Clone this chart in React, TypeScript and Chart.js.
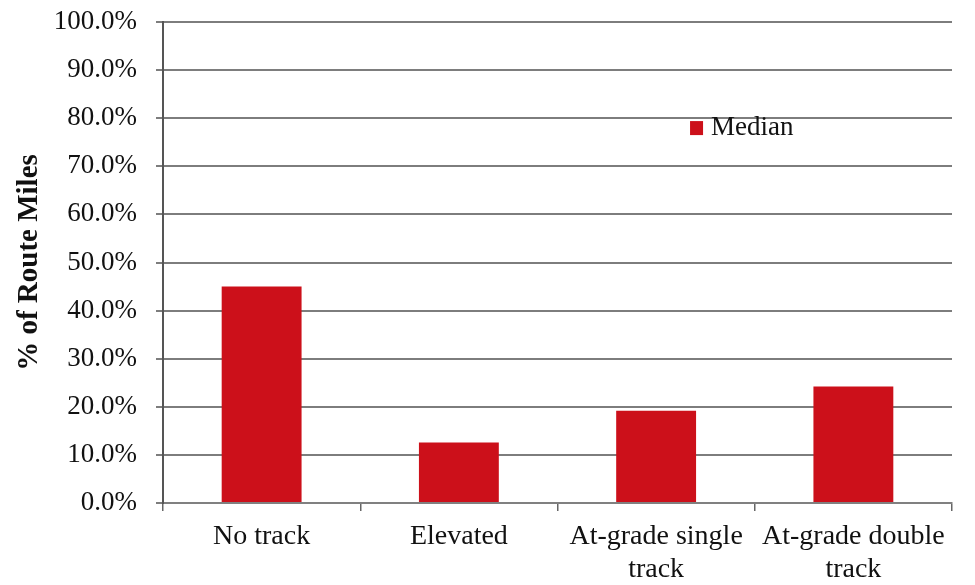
import React, { useEffect, useRef } from "react";
import { Chart, registerables } from "chart.js";

Chart.register(...registerables);

const categories: (string | string[])[] = [
  "No track",
  "Elevated",
  ["At-grade single", "track"],
  ["At-grade double", "track"],
];
const medianValues: number[] = [45.0, 12.6, 19.2, 24.2];
const seriesLabel = "Median";
const yAxisTitle = "% of Route Miles";

const SERIF = '"Liberation Serif", "Times New Roman", serif';
const BAR_RED = "#cc101a";

// Legend drawn inside the plot area, to the upper right
const insideLegend = {
  id: "insideLegend",
  afterDraw(chart: Chart) {
    const { ctx, chartArea } = chart;
    const ds = chart.data.datasets[0];
    const x = chartArea.left + (chartArea.right - chartArea.left) * 0.668;
    const y = chartArea.top + (chartArea.bottom - chartArea.top) * 0.206;
    ctx.save();
    ctx.fillStyle = ds.backgroundColor as string;
    ctx.fillRect(x, y, 13, 14);
    ctx.fillStyle = "#111";
    ctx.font = `27px ${SERIF}`;
    ctx.textBaseline = "middle";
    ctx.textAlign = "left";
    ctx.fillText(String(ds.label), x + 21, y + 7);
    ctx.restore();
  },
};

export default function App() {
  const canvasRef = useRef<HTMLCanvasElement | null>(null);

  useEffect(() => {
    document.body.style.margin = "0";
    const canvas = canvasRef.current;
    if (!canvas) return;
    const chart = new Chart(canvas, {
      type: "bar",
      data: {
        labels: categories,
        datasets: [
          {
            label: seriesLabel,
            data: medianValues,
            backgroundColor: BAR_RED,
            borderWidth: 0,
            categoryPercentage: 1,
            barPercentage: 0.405,
          },
        ],
      },
      options: {
        responsive: false,
        animation: false,
        events: [],
        layout: {
          autoPadding: false,
          padding: { left: 8, right: 23, top: 22, bottom: 0 },
        },
        plugins: {
          legend: { display: false },
          tooltip: { enabled: false },
        },
        scales: {
          x: {
            offset: true,
            afterFit: (s: any) => {
              s.height = 82;
              s.paddingLeft = 0;
              s.paddingRight = 0;
            },
            border: { display: true, color: "#808080", width: 2 },
            grid: {
              offset: true,
              drawOnChartArea: false,
              drawTicks: true,
              tickLength: 8,
              color: "#666",
              lineWidth: 1.5,
            },
            ticks: {
              color: "#111",
              padding: 10,
              maxRotation: 0,
              autoSkip: false,
              font: { family: SERIF, size: 28, lineHeight: 1.15 },
            },
          },
          y: {
            min: 0,
            max: 100,
            afterFit: (s: any) => {
              s.width = 155;
              s.paddingTop = 0;
              s.paddingBottom = 0;
            },
            border: { display: true, color: "#555", width: 2 },
            grid: {
              color: "#7d7d7d",
              lineWidth: 2,
              drawTicks: true,
              tickLength: 7,
            },
            ticks: {
              stepSize: 10,
              padding: 19,
              color: "#111",
              font: { family: SERIF, size: 27 },
              callback: (v: any) => Number(v).toFixed(1) + "%",
            },
            title: {
              display: true,
              text: yAxisTitle,
              color: "#111",
              padding: { top: 4, bottom: 0 },
              font: { family: SERIF, size: 29, weight: "bold", lineHeight: 1.2 },
            },
          },
        },
      },
      plugins: [insideLegend],
    });
    return () => chart.destroy();
  }, []);

  return (
    <div style={{ width: 975, height: 585, background: "#fff" }}>
      <canvas ref={canvasRef} width={975} height={585} />
    </div>
  );
}
